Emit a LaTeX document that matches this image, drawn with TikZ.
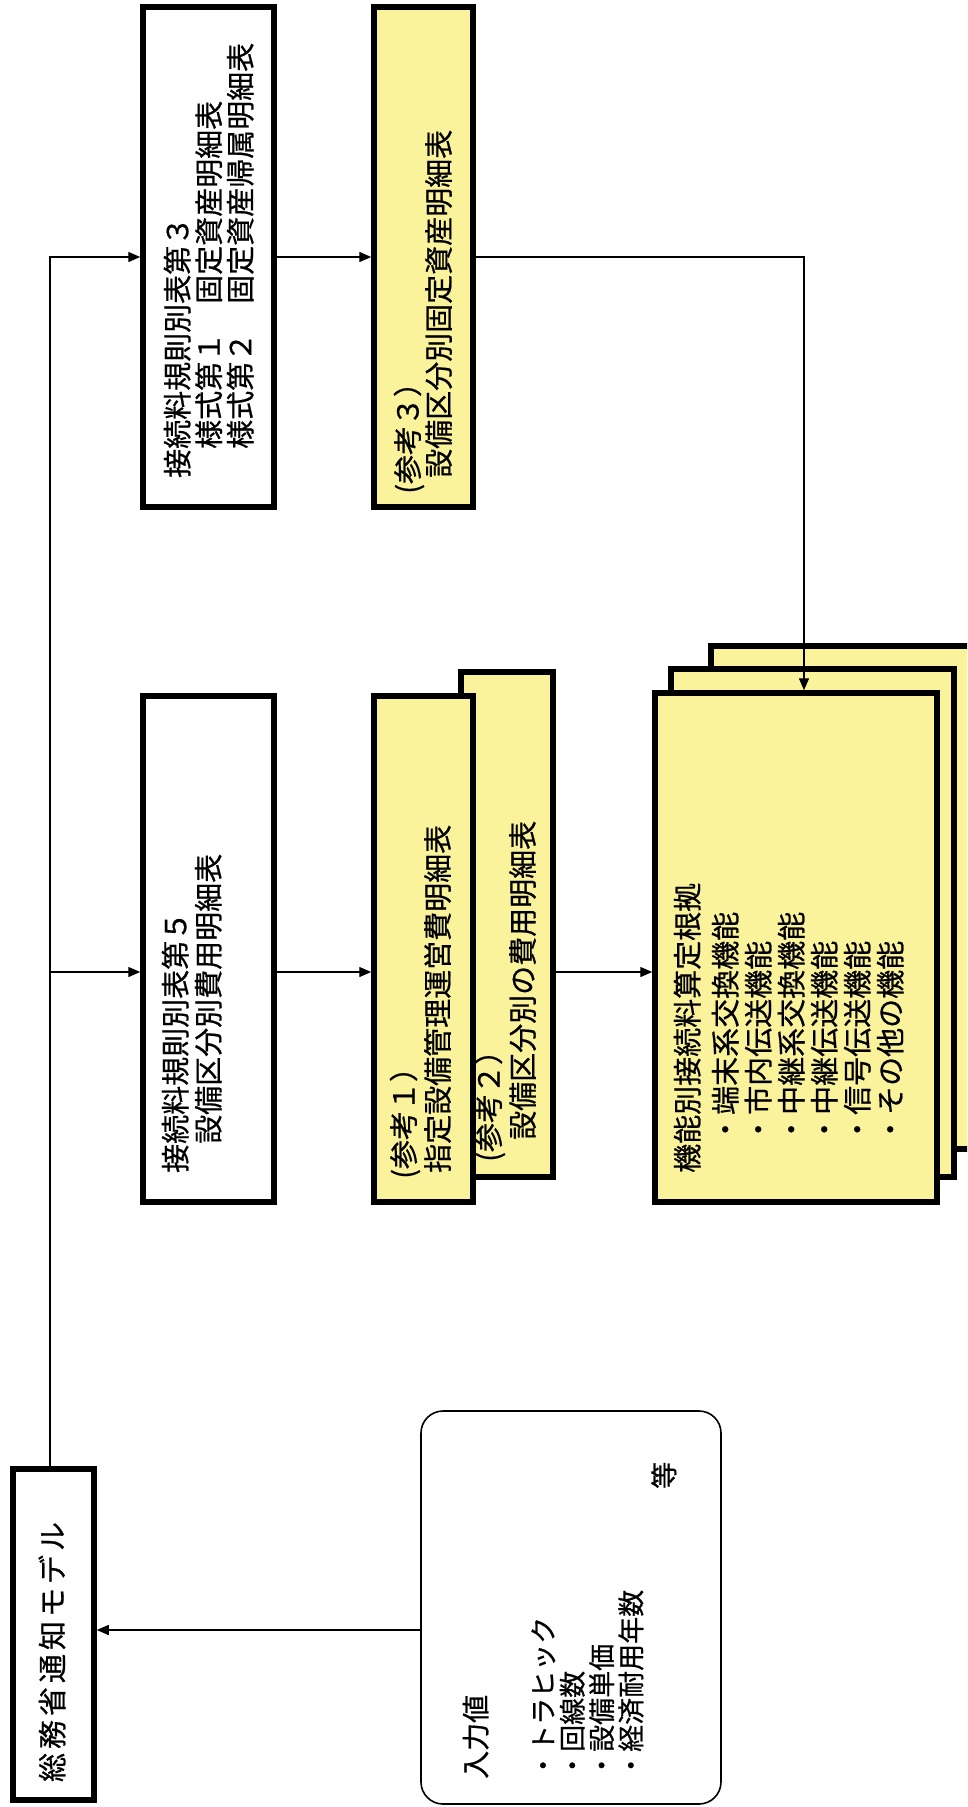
\documentclass[tikz,border=0pt]{standalone}
\usepackage{fontspec}
\newfontfamily\jp{Noto Sans CJK JP}[FakeBold=0.6]
\usetikzlibrary{arrows.meta}
\definecolor{ylw}{RGB}{250,243,156}
\newcommand\jpsize[2]{\jp\fontsize{#1}{#2}\selectfont}
\begin{document}
\begin{tikzpicture}[x=1pt,y=-1pt,
  box/.style={draw, line width=5.5pt, inner sep=0pt},
  ybox/.style={box, fill=ylw},
  txt/.style={rotate=90, inner sep=0pt, anchor=north west, align=left},
  conn/.style={line width=1.4pt, -{Triangle[length=12pt,width=10pt]}}]
\fill[white] (0,0) rectangle (967,1807);
\useasboundingbox (0,0) rectangle (967,1807);
\coordinate (r2) at (0,972);
\coordinate (r3) at (0,1630);
% boxes
\node[box, fill=white, minimum width=81pt, minimum height=331pt] (model) at (53.5,1634.5) {};
\node[box, fill=white, minimum width=131pt, minimum height=500pt] (A) at (208.5,257) {};
\node[ybox, minimum width=99pt, minimum height=500pt] (B) at (423.5,257) {};
\node[box, fill=white, minimum width=131pt, minimum height=506pt] (C) at (208.5,949) {};
\node[ybox, minimum width=92pt, minimum height=505pt] (E) at (507,924.5) {};
\node[ybox, minimum width=99pt, minimum height=506pt] (D) at (423.5,949) {};
\begin{scope}
\clip (0,0) rectangle (967,1807);
\node[ybox, minimum width=286pt, minimum height=503pt] (F3) at (854,897.5) {};
\end{scope}
\node[ybox, minimum width=283pt, minimum height=508pt] (F2) at (812.5,923) {};
\node[ybox, minimum width=282pt, minimum height=509pt] (F1) at (796,947.5) {};
\node[draw, line width=1.6pt, rounded corners=22pt, fill=white, minimum width=300pt, minimum height=393pt, inner sep=0pt] (in) at (571,1607.5) {};
% texts
\node[rotate=90, inner sep=0pt, anchor=center, font=\jpsize{29}{33}] (tM) at (52,1652) {総\kern4pt務\kern4pt省\kern4pt通\kern4pt知\kern4ptモ\kern4ptデ\kern4ptル};
\node[txt, font=\jpsize{29}{31.5}] (tA) at (163.5,478) {接続料規則別表第３\\　様式第１　固定資産明細表\\　様式第２　固定資産帰属明細表};
\node[txt, font=\jpsize{29}{31}] (tB) at (393.5,494) {(参考３）\\\hspace*{16pt}設備区分別固定資産明細表};
\node[txt, font=\jpsize{29}{33}] (tC) at (161.5,1173) {接続料規則別表第５\\　設備区分別費用明細表};
\node[txt, font=\jpsize{29}{34}] (tD) at (389.5,1179) {(参考１）\\\hspace*{6pt}指定設備管理運営費明細表};
\node[txt, font=\jpsize{29}{34}] (tE) at (474.5,1162) {(参考２）\\\hspace*{22pt}設備区分別の費用明細表};
\node[txt, font=\jpsize{29}{33}] (tF) at (673.5,1173) {機能別接続料算定根拠\\[5pt]　・端末系交換機能\\　・市内伝送機能\\　・中継系交換機能\\　・中継伝送機能\\　・信号伝送機能\\　・その他の機能};
\node[txt, font=\jpsize{27}{29.3}] (tIn) at (462.5,1779) {{\fontsize{28}{29.3}\selectfont 入力値}\\[37.7pt]・トラヒック\\・回線数\\・設備単価\\・経済耐用年数\\[3.7pt]\hspace*{290pt}等};
% connectors
\draw[conn] ([xshift=-3.5pt]model.north) |- (A.west);
\draw[conn] ([xshift=-3.5pt]model.north |- r2) -- (C.west |- r2);
\draw[conn] (A.east) -- (B.west);
\draw[conn] (C.east |- r2) -- (D.west |- r2);
\draw[conn] (E.east |- r2) -- (F1.west |- r2);
\draw[conn] (B.east) -| ([xshift=8pt]F1.north);
\draw[conn] (in.west |- r3) -- (model.east |- r3);
\end{tikzpicture}
\end{document}
